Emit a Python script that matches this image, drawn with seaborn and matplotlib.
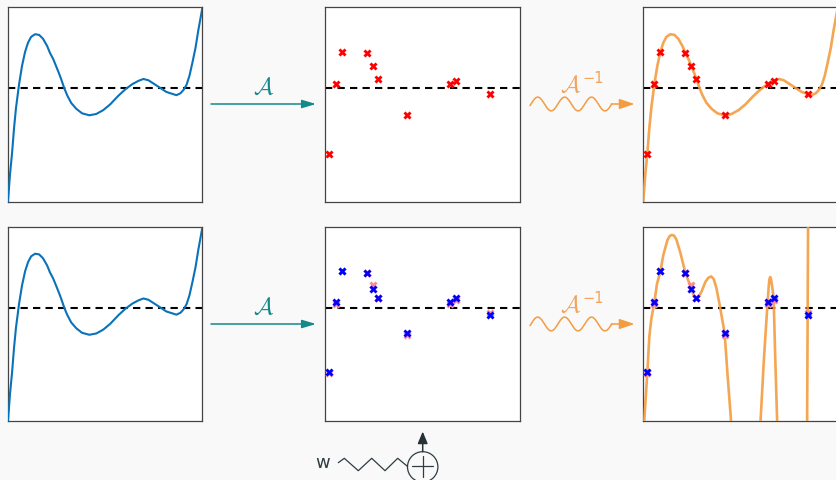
import numpy as np
import pandas as pd
import matplotlib.pyplot as plt
import matplotlib.patches as mpatches
import seaborn as sns

# ---- data ----
# x runs across a panel (0..1), y = 0 is the dashed line
curve_x = [0.000, 0.010, 0.021, 0.031, 0.041, 0.057, 0.072, 0.088, 0.103, 0.119,
           0.139, 0.160, 0.180, 0.201, 0.216, 0.232, 0.247, 0.263, 0.273, 0.289,
           0.304, 0.325, 0.351, 0.381, 0.418, 0.454, 0.490, 0.526, 0.567, 0.603,
           0.639, 0.670, 0.696, 0.722, 0.753, 0.784, 0.814, 0.845, 0.866, 0.887,
           0.902, 0.918, 0.933, 0.948, 0.964, 0.979, 0.990, 1.000]
curve_y = [-1.75, -1.34, -1.00, -0.62, -0.31, 0.06, 0.34, 0.56, 0.70, 0.79,
           0.83, 0.82, 0.76, 0.65, 0.54, 0.45, 0.34, 0.22, 0.14, 0.00,
           -0.11, -0.23, -0.32, -0.39, -0.42, -0.40, -0.34, -0.25, -0.12, -0.02,
           0.06, 0.11, 0.14, 0.12, 0.06, 0.00, -0.06, -0.09, -0.11, -0.08,
           -0.03, 0.05, 0.19, 0.39, 0.62, 0.90, 1.08, 1.25]

# samples taken by A, and the same samples with noise w added
sample_x = [0.021, 0.057, 0.088, 0.216, 0.247, 0.273, 0.418, 0.639, 0.670, 0.845]
sample_y = [-1.01, 0.06, 0.56, 0.54, 0.34, 0.14, -0.42, 0.06, 0.11, -0.09]
noisy_y = [-0.99, 0.08, 0.56, 0.54, 0.29, 0.15, -0.39, 0.08, 0.15, -0.11]

# A^-1 applied to the noisy samples (goes far outside the panel)
recon_x = [0.000, 0.005, 0.021, 0.031, 0.041, 0.057, 0.070, 0.088, 0.103, 0.124,
           0.135, 0.146, 0.158, 0.170, 0.191, 0.216, 0.247, 0.260, 0.273, 0.285,
           0.300, 0.320, 0.335, 0.349, 0.362, 0.376, 0.392, 0.418, 0.433, 0.451,
           0.465, 0.515, 0.567, 0.588, 0.603, 0.620, 0.639, 0.645, 0.648, 0.652,
           0.656, 0.660, 0.665, 0.670, 0.678, 0.688, 0.701, 0.773, 0.841, 0.845,
           0.849, 0.902, 1.005]
recon_y = [-2.30, -1.74, -0.99, -0.45, -0.18, 0.08, 0.36, 0.56, 0.81, 1.04,
           1.10, 1.12, 1.11, 1.05, 0.84, 0.54, 0.29, 0.18, 0.15, 0.17,
           0.25, 0.40, 0.46, 0.48, 0.44, 0.30, 0.05, -0.39, -1.03, -1.74,
           -2.50, -4.00, -3.00, -2.50, -1.74, -0.80, 0.08, 0.33, 0.43, 0.47,
           0.45, 0.37, 0.27, 0.15, -0.73, -1.74, -2.80, -5.00, -2.50, -0.11,
           2.50, 5.00, 5.00]

blue = '#0a72ba'
orange = '#f39c40'
teal = '#13898c'
dark = '#2f3d42'

sns.set_style('white')
plt.rcParams['font.family'] = ['DejaVu Sans']
plt.rcParams['mathtext.fontset'] = 'cm'

W, H = 837, 480
fig = plt.figure(figsize=(W / 100, H / 100), dpi=100, facecolor='#f9f9f9')


def panel(left, top, width, height):
    ax = fig.add_axes([left / W, 1 - (top + height) / H, width / W, height / H])
    ax.set_facecolor('white')
    ax.set_xlim(0, 1)
    ax.set_ylim(-1.75, 1.25)
    ax.set_xticks([])
    ax.set_yticks([])
    for s in ax.spines.values():
        s.set_color('#444444')
        s.set_linewidth(0.9)
    ax.axhline(0, color='black', linewidth=1.5, linestyle=(0, (3.5, 2.5)), zorder=2)
    return ax


cols = [8, 325.3, 643.3]
rows = [7, 226.5]
size = 194.5

for r, top in enumerate(rows):
    # left: the signal
    ax = panel(cols[0], top, size, size)
    sns.lineplot(x=curve_x, y=curve_y, ax=ax, color=blue, linewidth=1.5,
                 estimator=None, sort=False, zorder=3)

    # middle: the samples
    ax = panel(cols[1], top, size, size)
    if r == 0:
        sns.scatterplot(x=sample_x, y=sample_y, ax=ax, marker='X', s=34,
                        color='red', linewidth=0, zorder=4)
    else:
        sns.scatterplot(x=sample_x, y=sample_y, ax=ax, marker='X', s=34,
                        color='#ff8a8a', linewidth=0, zorder=4)
        sns.scatterplot(x=sample_x, y=noisy_y, ax=ax, marker='X', s=34,
                        color='#0000ff', linewidth=0, zorder=5)

    # right: what comes back (panel runs off the right edge)
    ax = panel(cols[2], top, size, size)
    ax.spines['right'].set_visible(False)
    if r == 0:
        sns.lineplot(x=curve_x, y=curve_y, ax=ax, color=orange, linewidth=1.9,
                     alpha=0.9, estimator=None, sort=False, zorder=3)
        sns.scatterplot(x=sample_x, y=sample_y, ax=ax, marker='X', s=34,
                        color='red', linewidth=0, zorder=4)
    else:
        sns.lineplot(x=recon_x, y=recon_y, ax=ax, color=orange, linewidth=1.9,
                     alpha=0.9, estimator=None, sort=False, zorder=3)
        sns.scatterplot(x=sample_x, y=sample_y, ax=ax, marker='X', s=34,
                        color='#ff8a8a', linewidth=0, zorder=4)
        sns.scatterplot(x=sample_x, y=noisy_y, ax=ax, marker='X', s=34,
                        color='#0000ff', linewidth=0, zorder=5)

# ---- arrows and labels, drawn in pixel units over the whole figure ----
ov = fig.add_axes([0, 0, 1, 1], zorder=10)
ov.set_xlim(0, W)
ov.set_ylim(H, 0)
ov.axis('off')
ov.patch.set_visible(False)

for yc in [104, 324]:
    ov.annotate('', xy=(316, yc), xytext=(211, yc),
                arrowprops=dict(arrowstyle='-|>,head_length=0.6,head_width=0.18',
                                color=teal, lw=1.1, mutation_scale=14,
                                shrinkA=0, shrinkB=0))
    ov.text(264, yc - 17, r'$\mathcal{A}$', color=teal, fontsize=17,
            ha='center', va='center')

    xs = np.linspace(530, 611.7, 300)
    ys = yc - 6.9 * np.sin(2 * np.pi * (xs - 531) / 26.9)
    ov.plot(xs, ys, color=orange, lw=1.1, solid_capstyle='round')
    ov.annotate('', xy=(634.5, yc), xytext=(611.5, yc),
                arrowprops=dict(arrowstyle='-|>,head_length=0.65,head_width=0.22',
                                color=orange, lw=1.1, mutation_scale=14,
                                shrinkA=0, shrinkB=0))
    ov.text(571, yc - 19.5, r'$\mathcal{A}$', color='#f5a35a',
            fontsize=17, ha='center', va='center')
    ov.text(582, yc - 25.5, '\u22121', color='#f5a35a',
            fontsize=10.5, ha='left', va='center')

# noise w entering through the adder
ov.text(322.5, 463, 'w', color=dark, fontsize=13, ha='center', va='center')
zig_x = [338.3, 344.3, 358.3, 371.7, 385.0, 397.7, 407.6]
zig_y = [462.7, 458.3, 470.7, 458.3, 470.7, 458.3, 466.5]
ov.plot(zig_x, zig_y, color=dark, lw=0.9)
ov.add_patch(mpatches.Circle((422.7, 466.9), 15.2, fill=False, edgecolor=dark, lw=0.9))
ov.plot([412.2, 433.2], [466.0, 466.0], color=dark, lw=0.9)
ov.plot([422.7, 422.7], [455.5, 476.5], color=dark, lw=0.9)
ov.annotate('', xy=(422.7, 431.5), xytext=(422.7, 451.7),
            arrowprops=dict(arrowstyle='-|>,head_length=0.6,head_width=0.25',
                            color='#263238', lw=1.1, mutation_scale=12,
                            shrinkA=0, shrinkB=0))

plt.savefig('out.png', dpi=100, facecolor=fig.get_facecolor())
plt.close()
